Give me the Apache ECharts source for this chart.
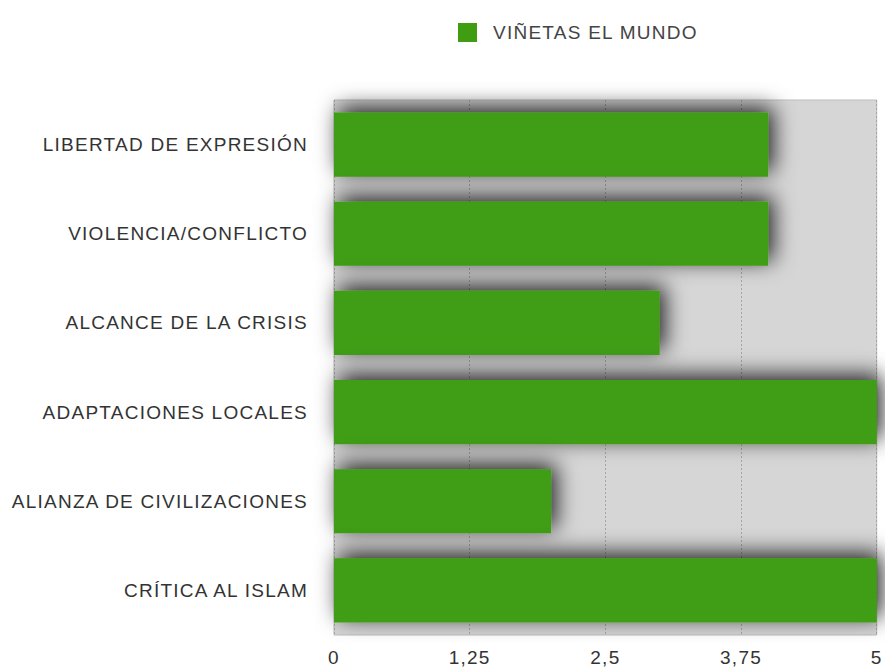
<!DOCTYPE html>
<html>
<head>
<meta charset="utf-8">
<script src="https://cdn.jsdelivr.net/npm/echarts@6/dist/echarts.min.js"></script>
<style>
  html, body { margin: 0; padding: 0; background: #fff; }
  #chart { width: 885px; height: 669px; }
  #chart text { letter-spacing: 1.25px; }
</style>
</head>
<body>
<div id="chart"></div>
<script>
const categories = [
  'LIBERTAD DE EXPRESIÓN',
  'VIOLENCIA/CONFLICTO',
  'ALCANCE DE LA CRISIS',
  'ADAPTACIONES LOCALES',
  'ALIANZA DE CIVILIZACIONES',
  'CRÍTICA AL ISLAM'
];
const seriesName = 'VIÑETAS EL MUNDO';
const values = [4, 4, 3, 5, 2, 5];
const xTicks = { min: 0, max: 5, interval: 1.25 };

const chart = echarts.init(document.getElementById('chart'), null, { renderer: 'svg' });
const font = 'Liberation Sans, Arial, sans-serif';
chart.setOption({
  animation: false,
  legend: {
    data: [seriesName],
    left: 453,
    top: 18,
    itemWidth: 19,
    itemHeight: 19,
    icon: 'rect',
    textStyle: { color: '#444', fontSize: 19, fontFamily: font, padding: [0, 0, 0, 11] }
  },
  grid: {
    left: 334,
    right: 6,
    top: 100,
    bottom: 34,
    show: true,
    backgroundColor: '#d6d6d6',
    borderColor: '#bdbdbd',
    borderWidth: 1,
    containLabel: false
  },
  xAxis: {
    type: 'value',
    min: xTicks.min,
    max: xTicks.max,
    interval: xTicks.interval,
    axisLine: { show: false },
    axisTick: { show: false },
    splitLine: { show: true, lineStyle: { color: '#a5a5a5', type: [2, 2], width: 1 } },
    axisLabel: {
      color: '#333',
      fontSize: 19,
      fontFamily: font,
      margin: 13,
      formatter: v => String(v).replace('.', ',')
    }
  },
  yAxis: {
    type: 'category',
    data: categories,
    inverse: true,
    axisLine: { show: false },
    axisTick: { show: false },
    splitLine: { show: false },
    axisLabel: { color: '#333', fontSize: 19, fontFamily: font, margin: 26 }
  },
  series: [{
    name: seriesName,
    type: 'bar',
    data: values,
    barCategoryGap: '28%',
    itemStyle: {
      color: '#409d12',
      shadowBlur: 22,
      shadowColor: 'rgba(0,0,0,0.85)',
      shadowOffsetX: 5,
      shadowOffsetY: -5
    }
  }]
});
</script>
</body>
</html>
